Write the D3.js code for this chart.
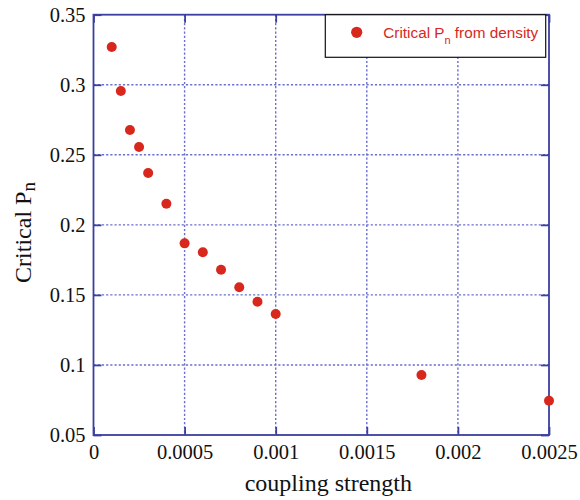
<!DOCTYPE html>
<html>
<head>
<meta charset="utf-8">
<script src="https://cdn.jsdelivr.net/npm/d3@7"></script>
<style>
  html, body { margin: 0; padding: 0; background: #fff; }
  svg { display: block; }
</style>
</head>
<body>
<svg id="chart" width="580" height="500"></svg>
<script>
// Critical P_n measured from density, against coupling strength
const couplingStrength = [0.0001, 0.00015, 0.0002, 0.00025, 0.0003, 0.0004, 0.0005,
                          0.0006, 0.0007, 0.0008, 0.0009, 0.001, 0.0018, 0.0025];
const criticalPn = [0.327, 0.2955, 0.2677, 0.2556, 0.237, 0.215, 0.1868,
                    0.1804, 0.168, 0.1554, 0.1451, 0.1364, 0.0928, 0.0745];

const xTickValues = [0, 0.0005, 0.001, 0.0015, 0.002, 0.0025];
const xTickLabels = ["0", "0.0005", "0.001", "0.0015", "0.002", "0.0025"];
const yTickValues = [0.05, 0.1, 0.15, 0.2, 0.25, 0.3, 0.35];
const yTickLabels = ["0.05", "0.1", "0.15", "0.2", "0.25", "0.3", "0.35"];

const frameColor = "#3b3f9f";
const gridColor = "#6a6fd0";
const pointColor = "#d8281e";
const serif = "'Liberation Serif', 'Times New Roman', serif";
const sans = "'Liberation Sans', Arial, sans-serif";

const svg = d3.select("#chart");
const plotLeft = 93.5, plotRight = 549, plotTop = 14.7, plotBottom = 435;

const x = d3.scaleLinear().domain([0, 0.0025]).range([plotLeft, plotRight]);
const y = d3.scaleLinear().domain([0.05, 0.35]).range([plotBottom, plotTop]);

// dotted grid
const grid = svg.append("g")
  .attr("stroke", gridColor)
  .attr("stroke-width", 1.4)
  .attr("stroke-dasharray", "2.2,2");
grid.selectAll("line.v")
  .data(xTickValues.slice(1, -1))
  .join("line")
  .attr("class", "v")
  .attr("x1", d => x(d)).attr("x2", d => x(d))
  .attr("y1", plotTop).attr("y2", plotBottom);
grid.selectAll("line.h")
  .data(yTickValues.slice(1, -1))
  .join("line")
  .attr("class", "h")
  .attr("x1", plotLeft).attr("x2", plotRight)
  .attr("y1", d => y(d)).attr("y2", d => y(d));

// axes with inward ticks on all four sides
function styleAxis(g) {
  g.select(".domain").remove();
  g.selectAll(".tick line").attr("stroke", frameColor).attr("stroke-width", 1.8);
  g.selectAll(".tick text")
    .attr("fill", "#111")
    .style("font-family", serif)
    .style("font-size", "20.5px");
}

svg.append("g")
  .attr("transform", `translate(0,${plotBottom})`)
  .call(d3.axisBottom(x).tickValues(xTickValues)
    .tickFormat((d, i) => xTickLabels[i]).tickSize(-8).tickPadding(9))
  .call(styleAxis)
  .call(g => g.selectAll(".tick text").attr("dy", "0.71em"));

svg.append("g")
  .attr("transform", `translate(0,${plotTop})`)
  .call(d3.axisTop(x).tickValues(xTickValues).tickFormat("").tickSize(-8))
  .call(styleAxis);

svg.append("g")
  .attr("transform", `translate(${plotLeft},0)`)
  .call(d3.axisLeft(y).tickValues(yTickValues)
    .tickFormat((d, i) => yTickLabels[i]).tickSize(-8).tickPadding(8))
  .call(styleAxis);

svg.append("g")
  .attr("transform", `translate(${plotRight},0)`)
  .call(d3.axisRight(y).tickValues(yTickValues).tickFormat("").tickSize(-8))
  .call(styleAxis);

// frame
svg.append("rect")
  .attr("x", plotLeft).attr("y", plotTop)
  .attr("width", plotRight - plotLeft).attr("height", plotBottom - plotTop)
  .attr("fill", "none")
  .attr("stroke", frameColor)
  .attr("stroke-width", 1.8);

// axis titles
svg.append("text")
  .attr("x", 328.3)
  .attr("y", 491)
  .attr("text-anchor", "middle")
  .attr("fill", "#111")
  .style("font-family", serif)
  .style("font-size", "24px")
  .text("coupling strength");

const yTitle = svg.append("text")
  .attr("transform", "translate(31,232.5) rotate(-90)")
  .attr("text-anchor", "middle")
  .attr("fill", "#111")
  .style("font-family", serif)
  .style("font-size", "24px");
yTitle.append("tspan").text("Critical P");
yTitle.append("tspan").attr("dy", 4).style("font-size", "19px").text("n");

// legend
const legend = svg.append("g");
legend.append("rect")
  .attr("x", 325.3).attr("y", plotTop)
  .attr("width", 220.4).attr("height", 42.6)
  .attr("fill", "#fff")
  .attr("stroke", "#111")
  .attr("stroke-width", 1.2);
legend.append("circle")
  .attr("cx", 356.7).attr("cy", 32.3).attr("r", 5.6)
  .attr("fill", pointColor);
const legText = legend.append("text")
  .attr("x", 383.3).attr("y", 38.3)
  .attr("fill", pointColor)
  .style("font-family", sans)
  .style("font-size", "15.3px");
legText.append("tspan").text("Critical P");
legText.append("tspan").attr("dy", 6).style("font-size", "11px").text("n");
legText.append("tspan").attr("dy", -6).text(" from density");

// data points
svg.append("g")
  .selectAll("circle")
  .data(couplingStrength.map((c, i) => [c, criticalPn[i]]))
  .join("circle")
  .attr("cx", d => x(d[0]))
  .attr("cy", d => y(d[1]))
  .attr("r", 5)
  .attr("fill", pointColor);
</script>
</body>
</html>
